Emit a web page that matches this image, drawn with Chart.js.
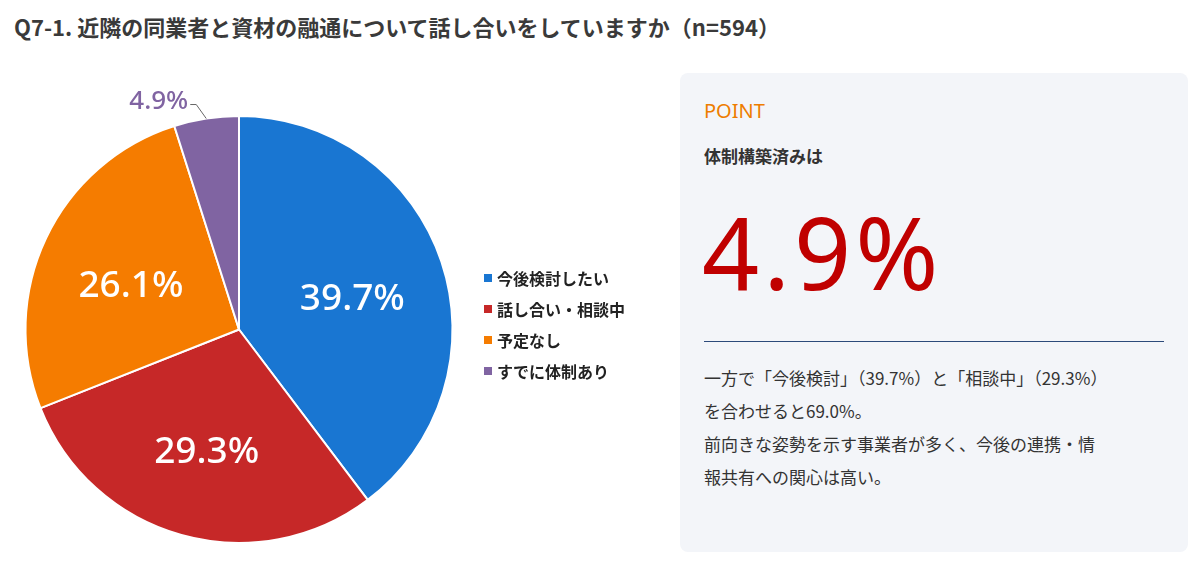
<!DOCTYPE html>
<html><head><meta charset="utf-8">
<script src="https://cdn.jsdelivr.net/npm/chart.js@4"></script>
<style>
body{margin:0;width:1200px;height:563px;background:#fff;font-family:"Noto Sans CJK JP","Noto Sans",sans-serif;position:relative;overflow:hidden;color:#333}
h1{position:absolute;left:14px;top:10px;margin:0;font-size:22px;font-weight:700;color:#3a3a3a}
#wrap{position:absolute;left:0;top:60px;width:660px;height:503px}
#panel{position:absolute;left:680px;top:73px;width:508px;height:479px;background:#f3f5f9;border-radius:8px}
.pt{position:absolute;left:24px;top:24px;font-size:20px;color:#ee7d00;font-family:"Noto Sans",sans-serif}
.sub{position:absolute;left:24px;top:70px;font-size:17px;font-weight:700;color:#333}
.big{position:absolute;left:22px;top:128px;font-size:100px;letter-spacing:4px;color:#c00000;font-family:"Noto Sans",sans-serif;line-height:1}
.hr{position:absolute;left:24px;top:268px;width:460px;border-top:1px solid #2c4a7a}
.txt{position:absolute;left:24px;top:288px;font-size:17px;line-height:33px;color:#333;width:480px}
</style></head><body>
<h1>Q7-1. 近隣の同業者と資材の融通について話し合いをしていますか（n=594）</h1>
<div id="wrap"><canvas id="pie"></canvas></div>
<div id="panel">
<div class="pt">POINT</div>
<div class="sub">体制構築済みは</div>
<div class="big">4.9%</div>
<div class="hr"></div>
<div class="txt">一方で「今後検討」（39.7%）と「相談中」（29.3%）<br>を合わせると69.0%。<br>前向きな姿勢を示す事業者が多く、今後の連携・情<br>報共有への関心は高い。</div>
</div>
<script>
const labels = ['今後検討したい', '話し合い・相談中', '予定なし', 'すでに体制あり'];
const values = [39.7, 29.3, 26.1, 4.9];
const colors = ['#1976d2', '#c62828', '#f57c00', '#8064a2'];

// スライス内ラベルと凡例を描く
const labelPlugin = {
    id: 'labelPlugin',
    afterDraw(chart) {
        const ctx = chart.ctx;
        const arcs = chart.getDatasetMeta(0).data;
        ctx.save();
        ctx.textAlign = 'center';
        ctx.textBaseline = 'middle';
        arcs.forEach((a, i) => {
            const mid = (a.startAngle + a.endAngle) / 2;
            if (i < 3) {
                const r = a.outerRadius * 0.56;
                ctx.fillStyle = '#fff';
                ctx.font = '500 37px "Noto Sans", sans-serif';
                ctx.fillText(values[i].toFixed(1) + '%', a.x + Math.cos(mid) * r, a.y + Math.sin(mid) * r + 8);
            } else {
                const x1 = a.x + Math.cos(mid) * a.outerRadius, y1 = a.y + Math.sin(mid) * a.outerRadius;
                ctx.strokeStyle = '#666'; ctx.lineWidth = 1;
                ctx.beginPath(); ctx.moveTo(x1, y1); ctx.lineTo(x1 - 10, y1 - 14); ctx.lineTo(x1 - 16, y1 - 14); ctx.stroke();
                ctx.fillStyle = colors[i];
                ctx.font = '500 26px "Noto Sans", sans-serif';
                ctx.textAlign = 'right';
                ctx.fillText(values[i].toFixed(1) + '%', x1 - 18, y1 - 17);
            }
        });
        // 凡例
        ctx.textAlign = 'left';
        ctx.font = '700 16px "Noto Sans CJK JP", sans-serif';
        labels.forEach((l, i) => {
            const y = 218 + i * 31;
            ctx.fillStyle = colors[i];
            ctx.fillRect(484, y - 4, 8, 8);
            ctx.fillStyle = '#222';
            ctx.fillText(l, 497, y + 1);
        });
        ctx.restore();
    }
};

new Chart(document.getElementById('pie'), {
    type: 'pie',
    data: { labels, datasets: [{ data: values, backgroundColor: colors, borderColor: '#fff', borderWidth: 2 }] },
    options: {
        responsive: true, maintainAspectRatio: false, animation: false,
        layout: { padding: { left: 24, right: 206, top: 55, bottom: 19 } },
        plugins: { legend: { display: false }, tooltip: { enabled: false } }
    },
    plugins: [labelPlugin]
});
</script>
</body></html>
